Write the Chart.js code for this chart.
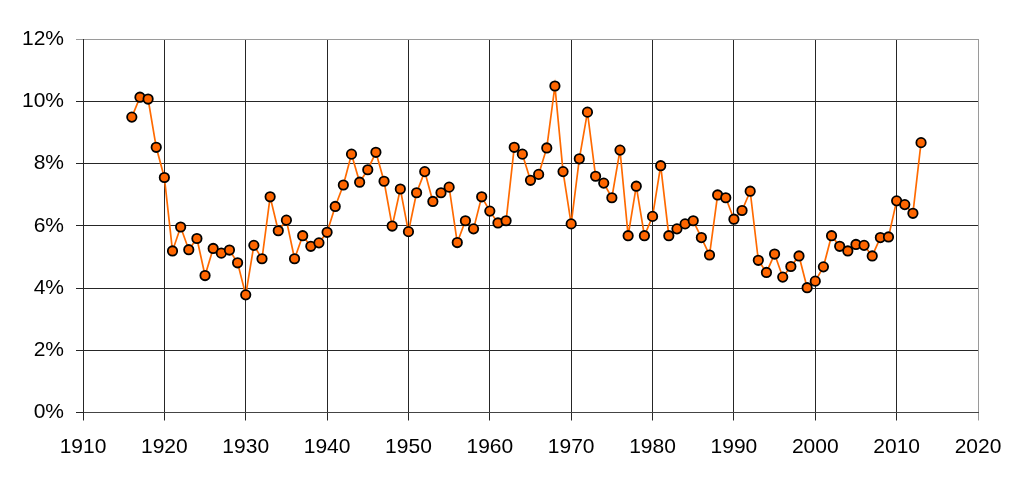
<!DOCTYPE html>
<html>
<head>
<meta charset="utf-8">
<script src="https://cdn.jsdelivr.net/npm/chart.js@4/dist/chart.umd.min.js"></script>
<style>
  html, body { margin: 0; padding: 0; background: #fff; }
  #wrap { width: 1024px; height: 484px; }
</style>
</head>
<body>
<div id="wrap"><canvas id="rateChart"></canvas></div>
<script>
    // years 1916..2013, one value each (percent)
    const years = [];
    for (let y = 1916; y <= 2013; y++) years.push(y);

    const rates = [
        9.49, 10.13, 10.07, 8.52, 7.55, 5.19, 5.96, 5.23, 5.59, 4.40,   // 1916-1925
        5.27, 5.12, 5.22, 4.81, 3.78, 5.37, 4.94, 6.93, 5.84, 6.18,     // 1926-1935
        4.94, 5.68, 5.34, 5.45, 5.79, 6.62, 7.31, 8.30, 7.40, 7.80,     // 1936-1945
        8.36, 7.43, 5.99, 7.18, 5.81, 7.06, 7.74, 6.78, 7.06, 7.24,     // 1946-1955
        5.46, 6.16, 5.90, 6.93, 6.47, 6.09, 6.16, 8.52, 8.30, 7.46,     // 1956-1965
        7.65, 8.50, 10.49, 7.74, 6.06, 8.15, 9.65, 7.59, 7.37, 6.90,    // 1966-1975
        8.43, 5.68, 7.27, 5.68, 6.30, 7.93, 5.68, 5.90, 6.06, 6.16,     // 1976-1985
        5.62, 5.06, 6.99, 6.90, 6.21, 6.49, 7.11, 4.89, 4.50, 5.09,     // 1986-1995
        4.35, 4.69, 5.03, 4.01, 4.22, 4.68, 5.68, 5.34, 5.19, 5.40,     // 1996-2005
        5.37, 5.03, 5.62, 5.64, 6.80, 6.68, 6.40, 8.67                  // 2006-2013
    ];

    const xTicks = [1910, 1920, 1930, 1940, 1950, 1960, 1970, 1980, 1990, 2000, 2010, 2020];
    const yTicks = [0, 2, 4, 6, 8, 10, 12];

    const points = years.map((y, i) => ({ x: y, y: rates[i] }));
    const font = { family: '"Liberation Sans", Arial, sans-serif', size: 21 };

    new Chart(document.getElementById('rateChart'), {
        type: 'line',
        data: {
            datasets: [{
                data: points,
                borderColor: '#ff6a00',
                borderWidth: 1.7,
                backgroundColor: '#ff6600',
                pointBackgroundColor: '#ff6600',
                pointBorderColor: '#000',
                pointBorderWidth: 1.8,
                pointRadius: 4.7,
                tension: 0
            }]
        },
        options: {
            responsive: true,
            maintainAspectRatio: false,
            animation: false,
            layout: { padding: { left: 0, top: 39, right: 46, bottom: 0 } },
            plugins: { legend: { display: false }, tooltip: { enabled: false } },
            scales: {
                x: {
                    type: 'linear',
                    min: xTicks[0],
                    max: xTicks[xTicks.length - 1],
                    afterBuildTicks: s => { s.ticks = xTicks.map(v => ({ value: v })); },
                    afterFit: s => { s.height = 71.5; },
                    ticks: { color: '#000', font: font, padding: 14, maxRotation: 0, callback: v => String(v) },
                    grid: {
                        color: c => c.index === xTicks.length - 1 ? '#9a9a9a' : '#262626',
                        lineWidth: 1,
                        tickLength: 8
                    },
                    border: { color: '#444', width: 1 }
                },
                y: {
                    min: yTicks[0],
                    max: yTicks[yTicks.length - 1],
                    afterBuildTicks: s => { s.ticks = yTicks.map(v => ({ value: v })); },
                    afterFit: s => { s.width = 83; },
                    ticks: { color: '#000', font: font, padding: 12, callback: v => v + '%' },
                    grid: {
                        color: c => c.index === yTicks.length - 1 ? '#9a9a9a' : '#262626',
                        lineWidth: 1,
                        tickLength: 7
                    },
                    border: { color: '#262626', width: 1 }
                }
            }
        }
    });
</script>
</body>
</html>
